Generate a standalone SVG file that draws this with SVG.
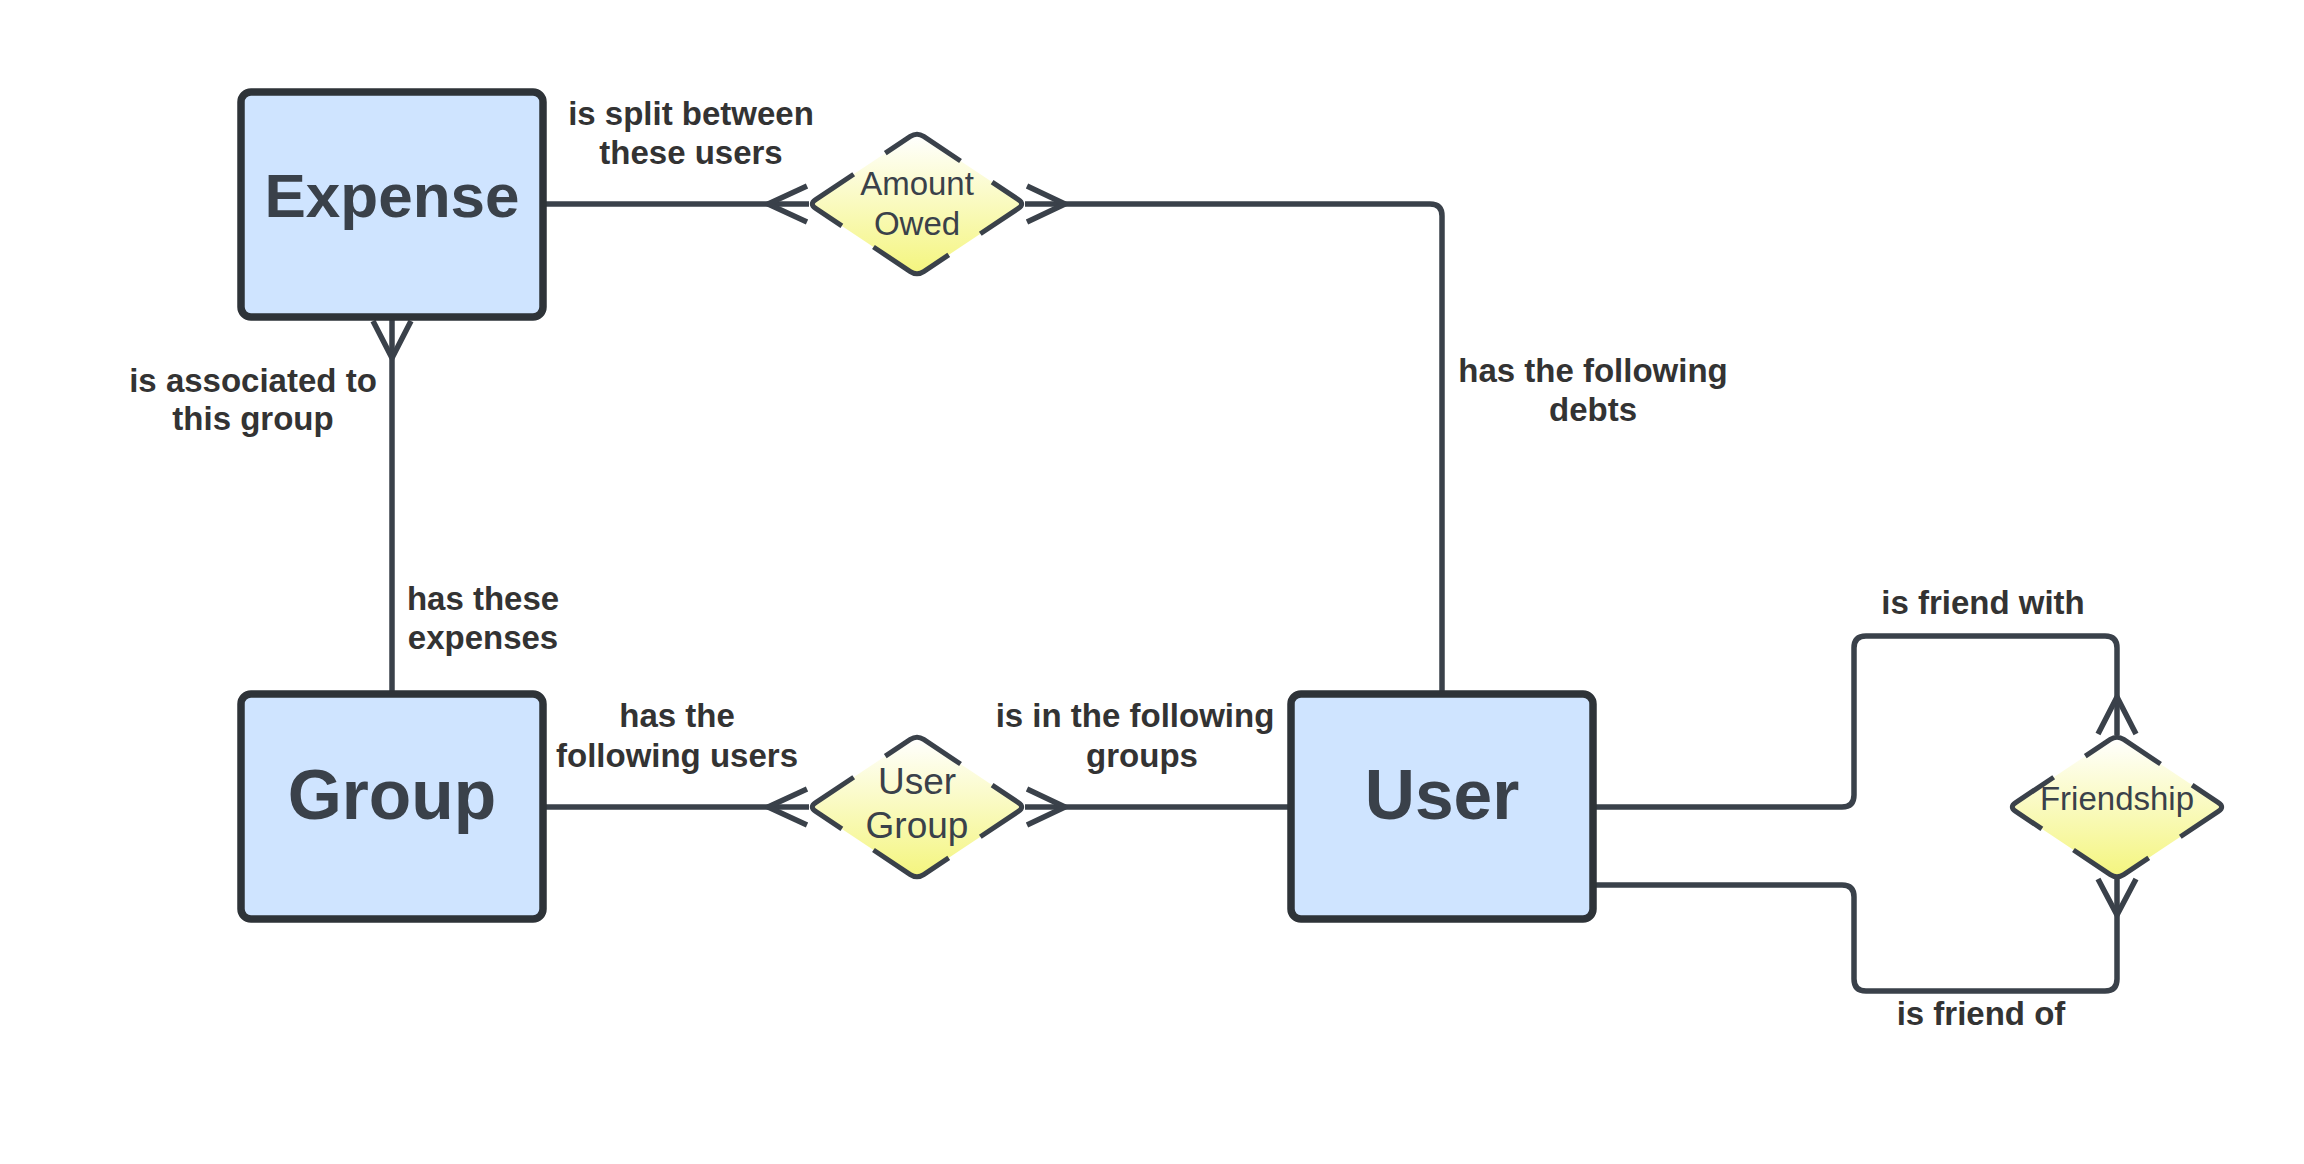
<svg xmlns="http://www.w3.org/2000/svg" xmlns:xlink="http://www.w3.org/1999/xlink" width="2304" height="1164" viewBox="0 0 2304 1164">
<style>
.entity{fill:#cfe4ff;stroke:#2e3338;stroke-width:7.5}
.etext{font-family:"Liberation Sans",Arial,sans-serif;font-weight:bold;fill:#3a414a;text-anchor:middle}
.dia{fill:url(#yel);stroke:#3a414a;stroke-width:5;stroke-dasharray:17.5 7.5;stroke-dashoffset:8.75;stroke-linejoin:round}
.dtext{font-family:"Liberation Sans",Arial,sans-serif;fill:#3a414a;text-anchor:middle}
.conn{fill:none;stroke:#3a414a;stroke-width:5.5;stroke-linejoin:round}
.lbl{font-family:"Liberation Sans",Arial,sans-serif;font-weight:bold;font-size:33px;fill:#333333;text-anchor:middle}
</style>
<defs>
<linearGradient id="yel" x1="0" y1="0" x2="0" y2="1">
<stop offset="0" stop-color="#ffffff"/>
<stop offset="1" stop-color="#f4f57e"/>
</linearGradient>
<path id="dia" pathLength="100" d="M 6.66 -67.56 L 101.34 -4.44 Q 108 0 101.34 4.44 L 6.66 67.56 Q 0 72 -6.66 67.56 L -101.34 4.44 Q -108 0 -101.34 -4.44 L -6.66 -67.56 Q 0 -72 6.66 -67.56 Z"/>
</defs>
<rect width="2304" height="1164" fill="#ffffff"/>

<g id="connectors">
<g id="c-expense-amount">
<path class="conn" d="M 543 204 H 809"/>
<path class="conn" d="M 807 186 L 768 204 L 807 222"/>
</g>
<g id="c-amount-user">
<path class="conn" d="M 1025 204 H 1430 Q 1442 204 1442 216 V 694"/>
<path class="conn" d="M 1027 186 L 1065 204 L 1027 222"/>
</g>
<g id="c-expense-group">
<path class="conn" d="M 392 317 V 694"/>
<path class="conn" d="M 373 321 L 392 358 L 411 321"/>
</g>
<g id="c-group-usergroup">
<path class="conn" d="M 543 807 H 809"/>
<path class="conn" d="M 807 789 L 768 807 L 807 825"/>
</g>
<g id="c-usergroup-user">
<path class="conn" d="M 1025 807 H 1291"/>
<path class="conn" d="M 1027 789 L 1065 807 L 1027 825"/>
</g>
<g id="c-user-friendship-top">
<path class="conn" d="M 1593 807 H 1842 Q 1854 807 1854 795 V 648 Q 1854 636 1866 636 H 2105 Q 2117 636 2117 648 V 735"/>
<path class="conn" d="M 2098 734 L 2117 697 L 2136 734"/>
</g>
<g id="c-user-friendship-bottom">
<path class="conn" d="M 1593 885 H 1842 Q 1854 885 1854 897 V 979 Q 1854 991 1866 991 H 2105 Q 2117 991 2117 979 V 878"/>
<path class="conn" d="M 2098 879 L 2117 915 L 2136 879"/>
</g>
</g>

<g id="labels">
<text class="lbl" x="691" y="125">is split between</text>
<text class="lbl" x="691" y="164">these users</text>
<text class="lbl" x="253" y="392">is associated to</text>
<text class="lbl" x="253" y="430">this group</text>
<text class="lbl" x="483" y="610">has these</text>
<text class="lbl" x="483" y="649">expenses</text>
<text class="lbl" x="1593" y="382">has the following</text>
<text class="lbl" x="1593" y="421">debts</text>
<text class="lbl" x="677" y="727">has the</text>
<text class="lbl" x="677" y="767">following users</text>
<text class="lbl" x="1135" y="727">is in the following</text>
<text class="lbl" x="1142" y="767">groups</text>
<text class="lbl" x="1983" y="614">is friend with</text>
<text class="lbl" x="1981" y="1025">is friend of</text>
</g>

<g id="expense">
<rect class="entity" x="241" y="92" width="302" height="225" rx="10"/>
<text class="etext" x="392" y="217" font-size="62">Expense</text>
</g>
<g id="group">
<rect class="entity" x="241" y="694" width="302" height="225" rx="10"/>
<text class="etext" x="392" y="819" font-size="69.5">Group</text>
</g>
<g id="user">
<rect class="entity" x="1291" y="694" width="302" height="225" rx="10"/>
<text class="etext" x="1442" y="819" font-size="69.5">User</text>
</g>
<g id="amount-owed">
<use href="#dia" xlink:href="#dia" class="dia" x="917" y="204"/>
<text class="dtext" x="917" y="195" font-size="33">Amount</text>
<text class="dtext" x="917" y="235" font-size="33">Owed</text>
</g>
<g id="user-group">
<use href="#dia" xlink:href="#dia" class="dia" x="917" y="807"/>
<text class="dtext" x="917" y="794" font-size="37">User</text>
<text class="dtext" x="917" y="838" font-size="37">Group</text>
</g>
<g id="friendship">
<use href="#dia" xlink:href="#dia" class="dia" x="2117" y="807"/>
<text class="dtext" x="2117" y="810" font-size="33">Friendship</text>
</g>
</svg>
